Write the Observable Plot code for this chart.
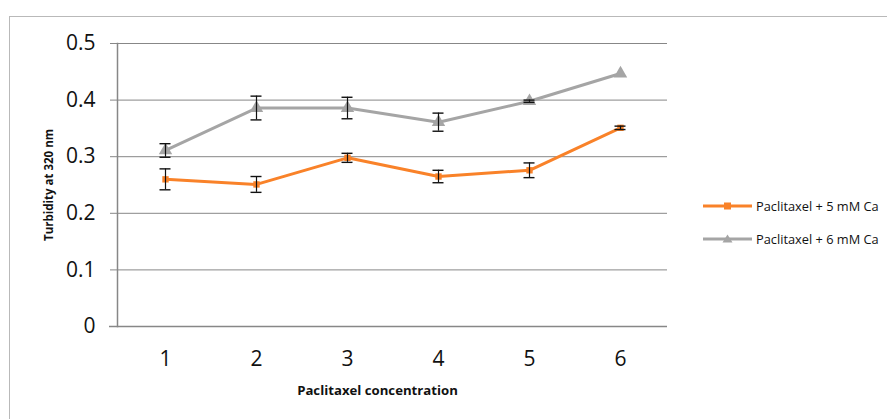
<!DOCTYPE html>
<html>
<head>
<meta charset="utf-8">
<script src="https://cdn.jsdelivr.net/npm/d3@7"></script>
<script src="https://cdn.jsdelivr.net/npm/@observablehq/plot@0.6"></script>
<style>
  html, body { margin: 0; padding: 0; background: #fff; }
  #wrap { position: relative; width: 887px; height: 419px; overflow: hidden; font-family: "Open Sans", sans-serif; }
  #border { position: absolute; left: 9px; top: 16px; width: 900px; height: 500px; border-left: 1.3px solid #b9b9b9; border-top: 1.3px solid #b9b9b9; }
  #chart { position: absolute; left: 0; top: 0; }
  .leg { position: absolute; display: flex; align-items: center; font-size: 12.8px; color: #111; white-space: nowrap; }
  .leg svg { margin-right: 4px; }
</style>
</head>
<body>
<div id="wrap">
  <div id="border"></div>
  <div id="chart"></div>
  <div id="legend"></div>
</div>
<script>
const categories = [1, 2, 3, 4, 5, 6];
const seriesNames = ["Paclitaxel + 5 mM Ca", "Paclitaxel + 6 mM Ca"];
const ca5Values = [0.260, 0.251, 0.298, 0.265, 0.276, 0.351];
const ca5Errors = [0.0185, 0.014, 0.008, 0.011, 0.013, 0.003];
const ca6Values = [0.311, 0.386, 0.386, 0.361, 0.398, 0.447];
const ca6Errors = [0.012, 0.021, 0.019, 0.016, 0.002, 0];
const yTicks = [0, 0.1, 0.2, 0.3, 0.4, 0.5];
const seriesColors = ["#f98229", "#a5a5a5"];
const xTitle = "Paclitaxel concentration";
const yTitle = "Turbidity at 320 nm";

const rows5 = categories.map((c, i) => ({x: c, y: ca5Values[i], err: ca5Errors[i]}));
const rows6 = categories.map((c, i) => ({x: c, y: ca6Values[i], err: ca6Errors[i]}));
const errRows = [...rows5, ...rows6].filter(d => d.err > 0);
const capRows = errRows.flatMap(d => [{x: d.x, y: d.y - d.err}, {x: d.x, y: d.y + d.err}]);

const axisColor = "#878787";

const chart = Plot.plot({
  width: 887,
  height: 419,
  marginLeft: 117,
  marginRight: 220,
  marginTop: 43,
  marginBottom: 93,
  style: {fontFamily: "'Open Sans', sans-serif", background: "transparent", color: "#111"},
  x: {type: "point", domain: categories, padding: 0.5},
  y: {domain: [0, 0.5]},
  marks: [
    Plot.gridY(yTicks, {stroke: axisColor, strokeOpacity: 1, strokeWidth: 1}),
    Plot.axisY(yTicks, {tickSize: 7, tickPadding: 15, fontSize: 21, stroke: axisColor, fill: "#111", label: null,
      tickFormat: d => d === 0 ? "0" : d.toFixed(1)}),
    Plot.axisX({tickSize: 0, tickPadding: 25, fontSize: 21, fill: "#111", label: null}),
    Plot.ruleY([0], {stroke: axisColor, strokeWidth: 1.5, insetLeft: -8}),
    Plot.frame({anchor: "left", stroke: axisColor, strokeWidth: 1.5}),
    Plot.line(rows6, {x: "x", y: "y", stroke: seriesColors[1], strokeWidth: 3}),
    Plot.line(rows5, {x: "x", y: "y", stroke: seriesColors[0], strokeWidth: 3}),
    Plot.dot(rows6, {x: "x", y: "y", symbol: "triangle", r: 5, fill: seriesColors[1], stroke: "none"}),
    Plot.dot(rows5, {x: "x", y: "y", symbol: "square", r: 3.6, fill: seriesColors[0], stroke: "none"}),
    Plot.ruleX(errRows, {x: "x", y1: d => d.y - d.err, y2: d => d.y + d.err, stroke: "#111", strokeWidth: 1.2}),
    Plot.ruleY(capRows, {y: "y", x1: "x", x2: "x", insetLeft: -5.5, insetRight: -5.5, stroke: "#111", strokeWidth: 1.4}),
    Plot.text([yTitle], {frameAnchor: "left", dx: -68, rotate: -90, fontSize: 11.5, fontWeight: "bold", fill: "#111", textAnchor: "middle", lineAnchor: "middle"}),
    Plot.text([xTitle], {frameAnchor: "bottom", dy: 64, dx: -15, fontSize: 13.2, fontWeight: "bold", fill: "#111", textAnchor: "middle", lineAnchor: "middle"})
  ]
});
document.getElementById("chart").appendChild(chart);

// Legend
const legend = document.getElementById("legend");
const legendTops = [206, 239];
seriesNames.forEach((name, i) => {
  const item = document.createElement("div");
  item.className = "leg";
  item.style.left = "703px";
  item.style.top = (legendTops[i] - 9) + "px";
  item.style.height = "18px";
  const marker = i === 0
    ? `<rect x="21" y="5.5" width="7" height="7" fill="${seriesColors[i]}"/>`
    : `<path d="M24.5,4.5 L29.5,12.5 L19.5,12.5 Z" fill="${seriesColors[i]}"/>`;
  item.innerHTML = `<svg width="49" height="18"><line x1="0" x2="49" y1="9" y2="9" stroke="${seriesColors[i]}" stroke-width="3"/>${marker}</svg><span>${name}</span>`;
  legend.appendChild(item);
});
</script>
</body>
</html>
